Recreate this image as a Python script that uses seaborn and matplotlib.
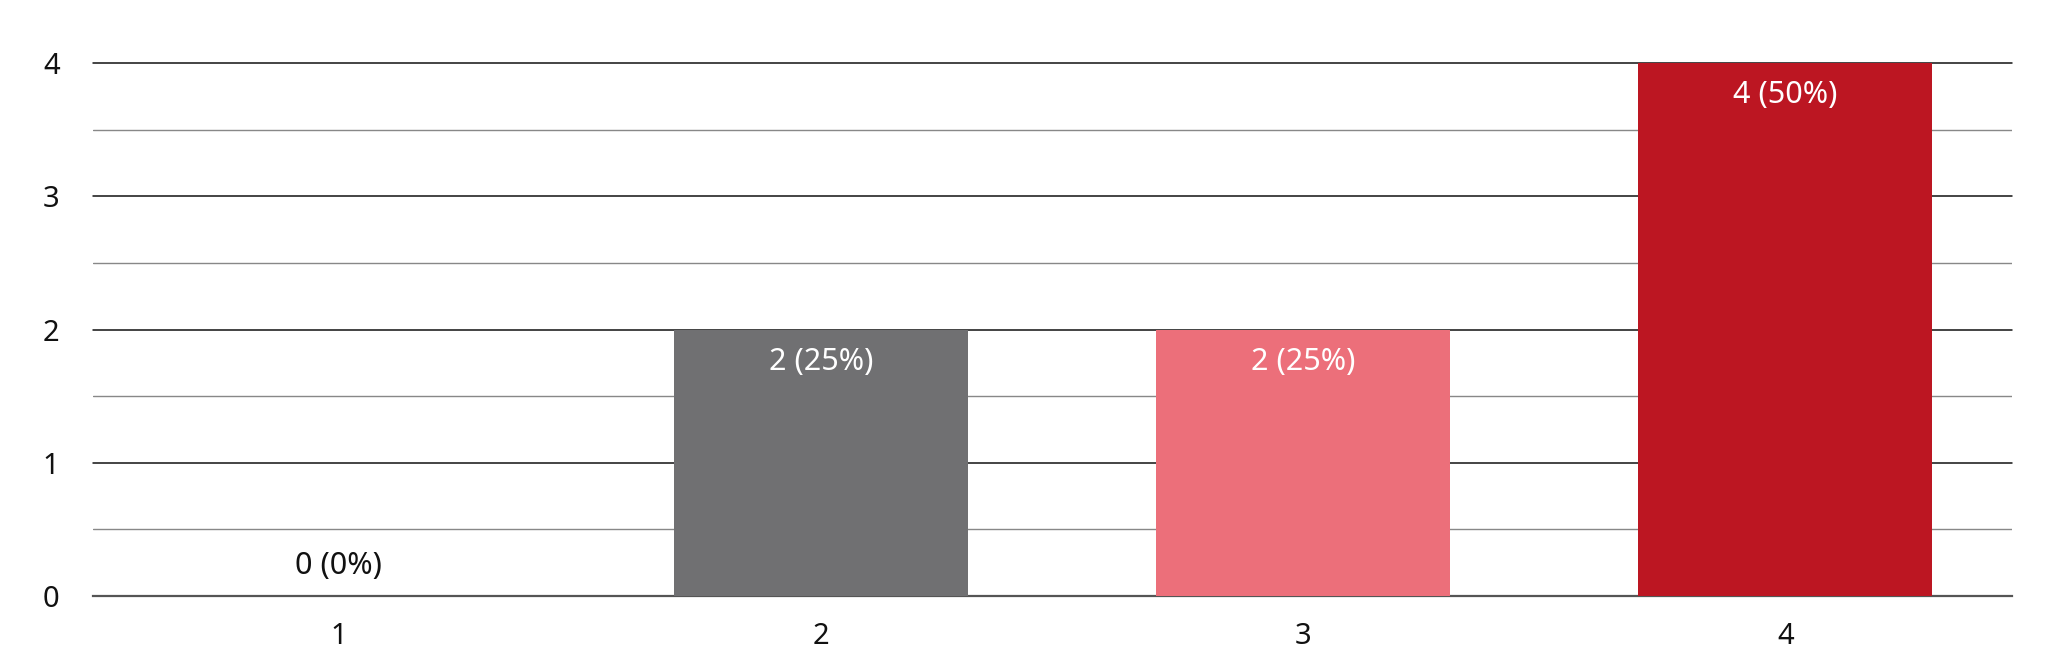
import matplotlib
matplotlib.use("Agg")
import matplotlib.pyplot as plt
import seaborn as sns
import pandas as pd
from matplotlib.ticker import MultipleLocator

categories = ["1", "2", "3", "4"]
counts = [0, 2, 2, 4]
percents = [0, 25, 25, 50]
colors = ["#707072", "#707072", "#EC6F7A", "#BC1622"]

sns.set_theme(style="white")
plt.rcParams['font.family'] = ['Noto Sans', 'Noto Sans CJK JP', 'DejaVu Sans']

df = pd.DataFrame({"cat": categories, "count": counts})

fig = plt.figure(figsize=(20.48, 6.66), dpi=100)
ax = fig.add_axes([0.0454, 0.105, 0.937, 0.8])

sns.barplot(data=df, x="cat", y="count", hue="cat", palette=colors,
            legend=False, width=0.61, saturation=1, linewidth=0, ax=ax, zorder=3)

ax.set_ylim(0, 4)
ax.set_xlim(-0.51, 3.47)
ax.yaxis.set_major_locator(MultipleLocator(1))
ax.yaxis.set_minor_locator(MultipleLocator(0.5))
ax.grid(which="major", axis="y", color="#111111", linewidth=1.1, zorder=0)
ax.grid(which="minor", axis="y", color="#888888", linewidth=1.0, zorder=0)
ax.set_axisbelow(True)
for gl in ax.get_ygridlines():
    gl.set_clip_on(False)
for s in ["top", "right", "left"]:
    ax.spines[s].set_visible(False)
ax.spines["bottom"].set_color("#555555")
ax.spines["bottom"].set_linewidth(1.6)
ax.set_xlabel("")
ax.set_ylabel("")
ax.tick_params(axis="y", which="both", length=0, pad=24, labelsize=21, labelcolor="#111111")
ax.tick_params(axis="x", length=0, pad=19, labelsize=21, labelcolor="#111111")

for i, (c, p) in enumerate(zip(counts, percents)):
    label = f"{c} ({p}%)"
    if c == 0:
        ax.annotate(label, (i, c), xytext=(0, 22), textcoords="offset points",
                    ha="center", va="center", fontsize=22, color="#111111")
    else:
        ax.annotate(label, (i, c), xytext=(0, -23), textcoords="offset points",
                    ha="center", va="center", fontsize=22, color="white")

fig.savefig("out.png", dpi=100)
